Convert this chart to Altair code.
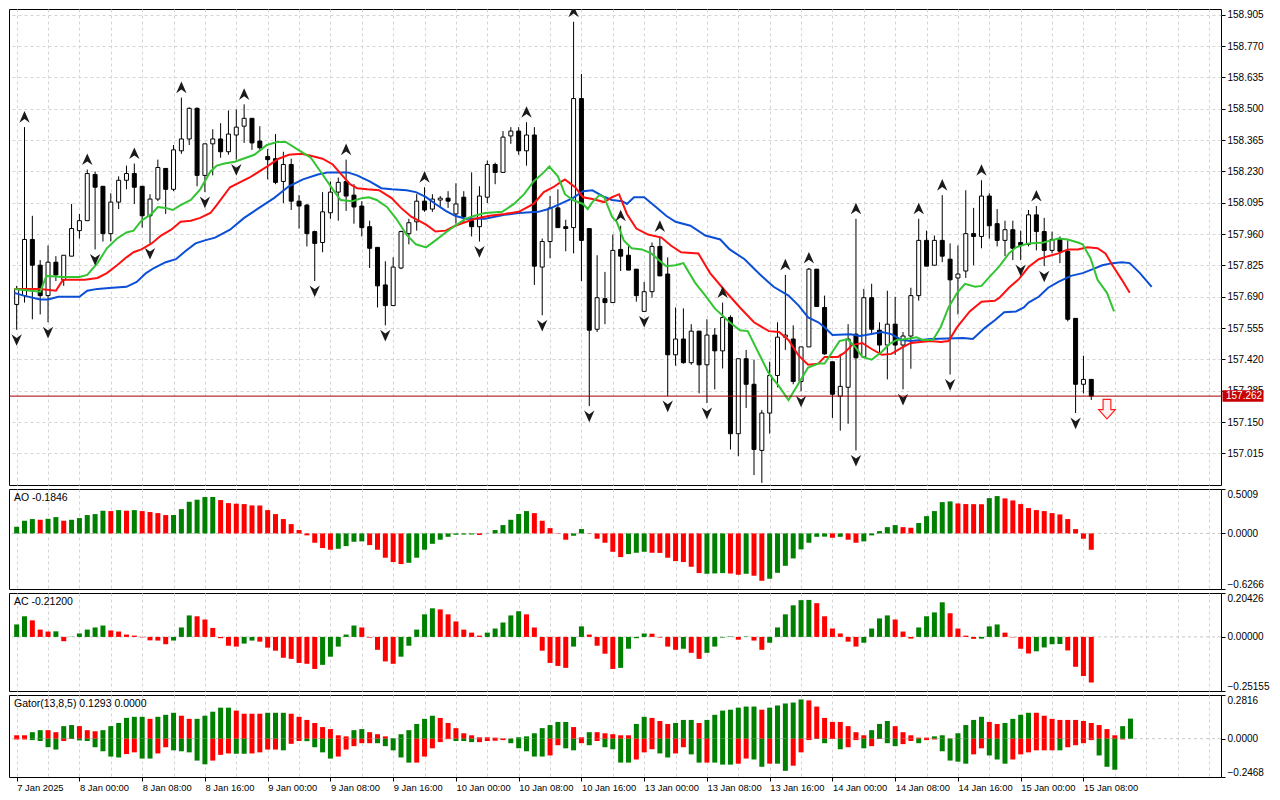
import altair as alt
import pandas as pd

# ---------------- data ----------------
opens = [157.657, 157.695, 157.937, 157.826, 157.695, 157.839, 157.763, 157.865, 157.975, 158.018,
         158.217, 158.166, 157.962, 158.098, 158.192, 158.221, 158.166, 158.039, 158.111, 158.243,
         158.153, 158.319, 158.370, 158.502, 158.213, 158.349, 158.370, 158.315, 158.387, 158.425,
         158.459, 158.361, 158.294, 158.285, 158.187, 158.260, 158.102, 158.085, 157.971, 157.924,
         158.052, 158.141, 158.187, 158.128, 158.081, 157.992, 157.903, 157.741, 157.652, 157.814,
         157.962, 158.013, 158.102, 158.068, 158.107, 158.115, 158.047, 158.119, 158.018, 157.992,
         158.119, 158.260, 158.226, 158.383, 158.404, 158.319, 158.387, 157.818, 157.928, 158.073,
         157.992, 157.988, 158.544, 157.984, 157.550, 157.682, 157.665, 157.894, 157.869, 157.809,
         157.627, 157.712, 157.907, 157.788, 157.440, 157.508, 157.406, 157.542, 157.397, 157.525,
         157.457, 157.601, 157.100, 157.423, 157.313, 157.028, 157.189, 157.351, 157.516, 157.508,
         157.325, 157.474, 157.809, 157.644, 157.410, 157.262, 157.300, 157.529, 157.431, 157.686,
         157.546, 157.482, 157.572, 157.482, 157.521, 157.695, 157.933, 157.826, 157.933, 157.852,
         157.771, 157.801, 157.962, 157.950, 158.124, 158.005, 157.933, 157.979, 157.924, 157.916,
         158.043, 157.971, 157.890, 157.937, 157.886, 157.597, 157.313, 157.334]
highs = [157.737, 158.421, 158.039, 157.848, 157.911, 157.865, 157.869, 158.090, 158.047, 158.238,
         158.230, 158.166, 158.136, 158.209, 158.255, 158.264, 158.166, 158.132, 158.281, 158.243,
         158.344, 158.548, 158.506, 158.506, 158.349, 158.412, 158.438, 158.493, 158.497, 158.519,
         158.459, 158.425, 158.327, 158.391, 158.315, 158.285, 158.128, 158.090, 157.975, 158.141,
         158.187, 158.204, 158.281, 158.175, 158.102, 158.018, 157.903, 157.843, 157.860, 157.975,
         158.026, 158.132, 158.162, 158.132, 158.124, 158.145, 158.179, 158.145, 158.226, 158.166,
         158.277, 158.268, 158.404, 158.421, 158.421, 158.442, 158.421, 157.941, 158.124, 158.153,
         158.022, 158.875, 158.650, 157.984, 157.869, 157.797, 157.958, 157.996, 157.916, 157.809,
         157.754, 157.924, 157.950, 157.860, 157.644, 157.640, 157.572, 157.542, 157.593, 157.555,
         157.665, 157.610, 157.423, 157.461, 157.419, 157.202, 157.410, 157.580, 157.784, 157.567,
         157.474, 157.814, 157.809, 157.695, 157.410, 157.444, 157.572, 158.026, 157.724, 157.746,
         157.580, 157.716, 157.690, 157.538, 157.729, 158.026, 157.975, 157.954, 158.128, 157.920,
         157.911, 158.149, 158.073, 158.192, 158.136, 158.068, 158.018, 158.018, 157.975, 158.064,
         158.081, 158.030, 157.971, 157.950, 157.933, 157.597, 157.436, 157.334]
lows = [157.548, 157.665, 157.593, 157.614, 157.580, 157.758, 157.737, 157.865, 157.941, 158.018,
        157.894, 157.928, 157.928, 158.068, 158.153, 158.090, 157.988, 157.920, 158.102, 158.047,
        158.145, 158.306, 158.344, 158.166, 158.141, 158.213, 158.289, 158.302, 158.281, 158.353,
        158.323, 158.323, 158.196, 158.175, 158.094, 158.064, 157.984, 157.907, 157.758, 157.882,
        158.026, 158.018, 158.060, 158.005, 157.950, 157.814, 157.644, 157.567, 157.652, 157.809,
        157.916, 157.975, 158.056, 158.056, 158.077, 158.073, 158.005, 158.013, 157.950, 157.928,
        158.094, 158.175, 158.226, 158.349, 158.302, 158.255, 157.741, 157.610, 157.856, 157.988,
        157.886, 157.877, 157.758, 157.219, 157.538, 157.572, 157.665, 157.801, 157.805, 157.669,
        157.627, 157.686, 157.780, 157.262, 157.393, 157.402, 157.397, 157.274, 157.232, 157.291,
        157.381, 157.032, 157.003, 157.211, 156.922, 156.888, 157.100, 157.300, 157.461, 157.313,
        157.283, 157.474, 157.648, 157.440, 157.168, 157.113, 157.143, 157.028, 157.431, 157.525,
        157.440, 157.334, 157.440, 157.291, 157.380, 157.673, 157.822, 157.826, 157.839, 157.355,
        157.614, 157.771, 157.826, 157.899, 157.941, 157.907, 157.865, 157.848, 157.848, 157.907,
        157.890, 157.822, 157.877, 157.835, 157.584, 157.189, 157.274, 157.245]
closes = [157.724, 157.937, 157.826, 157.695, 157.839, 157.784, 157.869, 157.984, 158.018, 158.221,
          158.162, 157.962, 158.098, 158.192, 158.221, 158.162, 158.039, 158.111, 158.247, 158.153,
          158.323, 158.370, 158.502, 158.213, 158.349, 158.370, 158.315, 158.391, 158.421, 158.459,
          158.353, 158.332, 158.281, 158.183, 158.260, 158.102, 158.081, 157.962, 157.920, 158.056,
          158.141, 158.183, 158.124, 158.077, 157.988, 157.899, 157.737, 157.652, 157.818, 157.971,
          158.009, 158.102, 158.064, 158.111, 158.115, 158.102, 158.090, 158.035, 157.992, 158.124,
          158.260, 158.226, 158.378, 158.404, 158.319, 158.387, 157.822, 157.928, 158.073, 157.988,
          157.984, 158.544, 157.933, 157.546, 157.686, 157.665, 157.890, 157.865, 157.805, 157.695,
          157.712, 157.907, 157.780, 157.440, 157.508, 157.406, 157.542, 157.397, 157.525, 157.457,
          157.601, 157.100, 157.423, 157.313, 157.032, 157.189, 157.351, 157.516, 157.525, 157.325,
          157.474, 157.809, 157.648, 157.444, 157.270, 157.304, 157.508, 157.427, 157.686, 157.550,
          157.482, 157.572, 157.482, 157.521, 157.695, 157.933, 157.822, 157.933, 157.865, 157.763,
          157.788, 157.962, 157.950, 158.124, 157.996, 157.933, 157.979, 157.899, 157.911, 158.043,
          157.971, 157.890, 157.937, 157.886, 157.593, 157.313, 157.334, 157.262]

time_labels = ["7 Jan 2025", "8 Jan 00:00", "8 Jan 08:00", "8 Jan 16:00", "9 Jan 00:00",
               "9 Jan 08:00", "9 Jan 16:00", "10 Jan 00:00", "10 Jan 08:00", "10 Jan 16:00",
               "13 Jan 00:00", "13 Jan 08:00", "13 Jan 16:00", "14 Jan 00:00", "14 Jan 08:00",
               "14 Jan 16:00", "15 Jan 00:00", "15 Jan 08:00"]
price_ticks = [157.015, 157.150, 157.285, 157.420, 157.555, 157.690, 157.825, 157.960,
               158.095, 158.230, 158.365, 158.500, 158.635, 158.770, 158.905]

up_fractal_bars = [1, 9, 15, 21, 29, 42, 52, 65, 71, 77, 82, 90, 98, 101, 107, 115, 118, 123, 130]
down_fractal_bars = [0, 4, 10, 17, 24, 28, 38, 47, 59, 67, 73, 80, 83, 88, 95, 100, 107, 113,
                     119, 128, 131, 135]
signal_bar = 139
signal_price = 157.206

jaw = [(-0.3, 157.707), (0.9, 157.695), (3.0, 157.678), (4.0, 157.678), (5.3, 157.690), (8.0, 157.690),
       (9.0, 157.716), (10.3, 157.724), (12.2, 157.729), (14.0, 157.733), (15.3, 157.754), (16.5, 157.792),
       (17.5, 157.814), (19.0, 157.839), (20.3, 157.852), (21.5, 157.886), (22.8, 157.920), (24.0, 157.933),
       (25.3, 157.945), (27.2, 157.979), (29.0, 158.030), (30.9, 158.073), (32.8, 158.115), (34.7, 158.166),
       (36.5, 158.196), (38.4, 158.217), (39.7, 158.226), (42.2, 158.226), (43.4, 158.213), (45.0, 158.187),
       (46.5, 158.158), (47.8, 158.153), (49.7, 158.149), (50.9, 158.141), (52.2, 158.119), (53.4, 158.090),
       (54.7, 158.060), (55.9, 158.039), (57.2, 158.026), (59.7, 158.026), (62.2, 158.043), (64.0, 158.051),
       (66.5, 158.056), (67.8, 158.068), (69.3, 158.090), (70.9, 158.115), (72.2, 158.145), (73.4, 158.149),
       (74.7, 158.124), (75.9, 158.107), (77.2, 158.102), (77.8, 158.090), (78.7, 158.119), (80.0, 158.119),
       (81.5, 158.077), (82.8, 158.039), (84.0, 158.013), (85.9, 157.996), (87.8, 157.954), (89.7, 157.937),
       (90.9, 157.894), (92.8, 157.852), (94.7, 157.788), (96.5, 157.733), (98.4, 157.695), (99.7, 157.652),
       (100.9, 157.601), (102.2, 157.580), (103.0, 157.559), (104.0, 157.525), (106.3, 157.529), (107.5, 157.521),
       (108.8, 157.529), (110.3, 157.538), (111.5, 157.529), (112.8, 157.504), (114.0, 157.499), (116.5, 157.508),
       (120.7, 157.512), (121.9, 157.508), (123.4, 157.555), (124.7, 157.589), (125.9, 157.623), (127.4, 157.627),
       (128.4, 157.644), (129.0, 157.665), (130.3, 157.690), (131.5, 157.729), (132.8, 157.754), (134.4, 157.780),
       (135.9, 157.792), (137.2, 157.809), (138.4, 157.826), (139.7, 157.835), (140.9, 157.839), (141.9, 157.835),
       (143.2, 157.792), (144.7, 157.733)]
teeth = [(-0.3, 157.724), (3.0, 157.724), (5.0, 157.716), (5.9, 157.763), (8.7, 157.763), (10.3, 157.771),
         (11.5, 157.792), (12.8, 157.826), (14.0, 157.860), (14.9, 157.882), (15.9, 157.894), (17.2, 157.920),
         (18.4, 157.954), (19.7, 157.979), (20.9, 158.013), (22.2, 158.018), (23.4, 158.030), (24.7, 158.051),
         (25.5, 158.085), (27.2, 158.162), (29.7, 158.204), (31.9, 158.251), (33.4, 158.285), (34.7, 158.302),
         (36.3, 158.306), (37.5, 158.298), (39.0, 158.285), (40.3, 158.260), (41.5, 158.213), (42.5, 158.175),
         (43.4, 158.158), (44.7, 158.153), (46.2, 158.149), (47.8, 158.115), (49.0, 158.073), (50.3, 158.035),
         (52.2, 158.001), (53.4, 157.971), (54.7, 157.975), (55.9, 157.996), (58.4, 158.026), (60.3, 158.039),
         (62.2, 158.047), (64.0, 158.056), (65.9, 158.090), (67.2, 158.141), (68.4, 158.162), (69.3, 158.183),
         (69.9, 158.196), (71.2, 158.162), (72.2, 158.119), (73.4, 158.111), (74.9, 158.098), (75.9, 158.119),
         (76.8, 158.132), (77.8, 158.047), (79.0, 157.984), (80.5, 157.958), (82.2, 157.945), (83.4, 157.911),
         (84.7, 157.882), (86.9, 157.877), (88.4, 157.792), (90.3, 157.716), (92.2, 157.644), (94.0, 157.580),
         (95.9, 157.542), (97.2, 157.538), (98.4, 157.504), (99.7, 157.436), (100.9, 157.397), (102.2, 157.402),
         (103.0, 157.431), (104.7, 157.431), (105.5, 157.448), (106.5, 157.482), (107.8, 157.491), (109.0, 157.465),
         (110.3, 157.440), (111.5, 157.444), (112.8, 157.470), (114.0, 157.491), (116.5, 157.499), (117.8, 157.495),
         (118.8, 157.499), (119.9, 157.559), (121.5, 157.627), (123.0, 157.669), (124.7, 157.673), (125.3, 157.686),
         (126.5, 157.729), (127.8, 157.767), (129.0, 157.818), (130.3, 157.852), (131.5, 157.865), (132.8, 157.877),
         (134.0, 157.894), (135.3, 157.894), (136.5, 157.903), (137.8, 157.899), (138.8, 157.877), (139.7, 157.826),
         (140.9, 157.763), (141.9, 157.707)]
lips = [(-0.3, 157.724), (3.0, 157.712), (3.8, 157.780), (5.9, 157.775), (8.0, 157.775), (9.0, 157.784),
        (10.3, 157.835), (11.5, 157.899), (12.8, 157.941), (14.0, 157.967), (14.9, 157.975), (15.9, 158.018),
        (17.2, 158.047), (18.0, 158.077), (19.0, 158.073), (19.9, 158.064), (20.9, 158.085), (22.2, 158.107),
        (23.4, 158.153), (24.7, 158.230), (25.5, 158.255), (26.5, 158.264), (27.8, 158.272), (30.3, 158.302),
        (31.9, 158.344), (33.2, 158.357), (34.3, 158.357), (35.9, 158.323), (37.5, 158.289), (39.0, 158.217),
        (40.3, 158.153), (41.3, 158.107), (42.8, 158.102), (44.0, 158.115), (44.9, 158.119), (45.9, 158.107),
        (47.2, 158.077), (48.4, 158.026), (49.7, 157.958), (50.9, 157.916), (52.2, 157.903), (53.4, 157.933),
        (54.7, 157.967), (55.9, 157.996), (57.2, 158.026), (58.4, 158.039), (59.7, 158.051), (61.9, 158.056),
        (63.4, 158.090), (64.7, 158.132), (65.9, 158.187), (67.2, 158.226), (67.9, 158.251), (69.0, 158.209),
        (69.9, 158.132), (70.9, 158.107), (72.2, 158.090), (72.8, 158.068), (73.4, 158.098), (74.3, 158.128),
        (74.9, 158.119), (75.9, 158.035), (76.5, 158.013), (77.4, 157.933), (78.4, 157.899), (79.7, 157.894),
        (80.9, 157.877), (82.8, 157.822), (84.0, 157.826), (85.0, 157.835), (86.5, 157.750), (87.8, 157.695),
        (89.0, 157.640), (90.9, 157.580), (92.2, 157.546), (93.2, 157.542), (94.7, 157.440), (95.9, 157.359),
        (97.2, 157.304), (98.4, 157.245), (99.7, 157.317), (100.9, 157.385), (102.2, 157.402), (103.0, 157.402),
        (104.0, 157.453), (104.9, 157.499), (105.9, 157.508), (106.9, 157.474), (107.8, 157.431), (109.0, 157.419),
        (110.3, 157.453), (111.3, 157.487), (112.2, 157.504), (113.4, 157.508), (114.7, 157.516), (115.5, 157.504),
        (116.8, 157.504), (117.8, 157.559), (118.8, 157.644), (119.9, 157.707), (120.9, 157.746), (122.2, 157.733),
        (123.0, 157.737), (124.0, 157.775), (125.3, 157.822), (126.5, 157.877), (127.4, 157.903), (129.0, 157.920),
        (130.9, 157.924), (131.9, 157.933), (132.8, 157.941), (134.0, 157.937), (135.3, 157.924), (135.9, 157.916),
        (136.9, 157.856), (137.8, 157.763), (139.0, 157.707), (139.9, 157.627)]

ao_values = [0.075, 0.143, 0.162, 0.154, 0.165, 0.184, 0.143, 0.154, 0.173, 0.207,
             0.218, 0.256, 0.252, 0.263, 0.256, 0.263, 0.252, 0.241, 0.229, 0.207,
             0.208, 0.274, 0.357, 0.380, 0.410, 0.411, 0.376, 0.342, 0.335, 0.331,
             0.316, 0.315, 0.263, 0.218, 0.162, 0.105, 0.038, -0.022, -0.105, -0.165,
             -0.184, -0.173, -0.143, -0.094, -0.090, -0.132, -0.184, -0.274, -0.323, -0.346,
             -0.331, -0.274, -0.184, -0.117, -0.071, -0.038, -0.015, -0.013, -0.012, -0.018,
             -0.002, 0.038, 0.094, 0.154, 0.218, 0.252, 0.229, 0.143, 0.060, 0.004,
             -0.071, -0.026, 0.049, -0.004, -0.060, -0.105, -0.207, -0.267, -0.233, -0.218,
             -0.207, -0.218, -0.220, -0.274, -0.312, -0.323, -0.376, -0.447, -0.455, -0.451,
             -0.447, -0.452, -0.466, -0.455, -0.477, -0.534, -0.511, -0.444, -0.365, -0.282,
             -0.180, -0.105, -0.038, -0.036, -0.049, -0.038, -0.071, -0.105, -0.090, -0.022,
             0.026, 0.071, 0.094, 0.071, 0.064, 0.117, 0.195, 0.252, 0.353, 0.361,
             0.338, 0.331, 0.330, 0.329, 0.398, 0.421, 0.395, 0.372, 0.331, 0.286,
             0.263, 0.252, 0.229, 0.214, 0.162, 0.049, -0.060, -0.1846]
ao_colors = list("gggrggrggg" "ggrgrgrrrr" "ggggggrrrr" "rrrrrrrrrr" "rggggrrrrr"
                 "gggggggggr" "ggggggrrrr" "rggrrrrrgg" "grrrrrrrgg" "grrgrrgggg"
                 "ggggrgrrgg" "gggrrggggg" "rrrrggrrrr" "rrrrrrrr")

ac_values = [0.058, 0.096, 0.077, 0.034, 0.025, 0.026, -0.020, 0.001, 0.016, 0.034,
             0.044, 0.053, 0.030, 0.025, 0.011, 0.006, -0.002, -0.016, -0.017, -0.034,
             -0.017, 0.044, 0.100, 0.096, 0.081, 0.042, -0.006, -0.041, -0.045, -0.031,
             -0.017, -0.022, -0.050, -0.064, -0.097, -0.102, -0.121, -0.125, -0.149, -0.130,
             -0.092, -0.045, 0.011, 0.053, 0.044, -0.003, -0.060, -0.114, -0.125, -0.092,
             -0.041, 0.034, 0.105, 0.133, 0.128, 0.105, 0.072, 0.034, 0.020, 0.006,
             0.020, 0.039, 0.067, 0.100, 0.119, 0.105, 0.044, -0.064, -0.121, -0.135,
             -0.144, -0.045, 0.049, 0.011, -0.041, -0.078, -0.149, -0.144, -0.055, -0.006,
             0.016, 0.015, -0.003, -0.045, -0.060, -0.055, -0.074, -0.102, -0.074, -0.045,
             -0.003, 0.002, -0.013, 0.002, -0.017, -0.060, -0.027, 0.044, 0.105, 0.147,
             0.171, 0.172, 0.157, 0.096, 0.039, 0.016, -0.022, -0.045, -0.027, 0.039,
             0.086, 0.100, 0.081, 0.025, -0.008, 0.044, 0.096, 0.114, 0.161, 0.110,
             0.039, 0.006, -0.009, -0.008, 0.049, 0.058, 0.020, -0.002, -0.055, -0.077,
             -0.067, -0.049, -0.034, -0.033, -0.063, -0.139, -0.182, -0.212]
ac_colors = list("ggrrrgrggg" "ggrrrrrrrr" "gggrrrrrrg" "grrrrrrrrg" "ggggrrrrrg"
                 "ggggrrrrrr" "gggggrrrrr" "rggrrrrggg" "grrrrgrrgg" "ggrgrrgggg"
                 "ggrrrrrrgg" "ggrrrggggr" "rrrgggrrrr" "ggggrrrr")

gator_up = [0.022, 0.022, 0.042, 0.055, 0.055, 0.042, 0.081, 0.088, 0.081, 0.055,
            0.048, 0.055, 0.081, 0.101, 0.134, 0.141, 0.141, 0.128, 0.141, 0.154,
            0.167, 0.148, 0.128, 0.128, 0.148, 0.174, 0.200, 0.200, 0.181, 0.161,
            0.161, 0.161, 0.167, 0.167, 0.167, 0.161, 0.141, 0.121, 0.101, 0.075,
            0.062, 0.022, 0.015, 0.055, 0.062, 0.042, 0.029, 0.015, 0.003, 0.029,
            0.055, 0.095, 0.128, 0.148, 0.134, 0.101, 0.068, 0.035, 0.022, 0.009,
            0.009, 0.007, 0.002, 0.001, 0.009, 0.015, 0.035, 0.068, 0.088, 0.108,
            0.108, 0.075, 0.009, 0.042, 0.042, 0.035, 0.029, 0.022, 0.022, 0.095,
            0.141, 0.134, 0.114, 0.095, 0.101, 0.121, 0.121, 0.101, 0.121, 0.154,
            0.181, 0.187, 0.200, 0.207, 0.207, 0.187, 0.200, 0.214, 0.227, 0.233,
            0.253, 0.247, 0.207, 0.134, 0.108, 0.108, 0.081, 0.042, 0.022, 0.055,
            0.095, 0.114, 0.081, 0.042, 0.022, 0.007, 0.007, 0.015, 0.022, 0.002,
            0.035, 0.088, 0.121, 0.141, 0.108, 0.095, 0.101, 0.128, 0.154, 0.167,
            0.167, 0.148, 0.128, 0.121, 0.121, 0.121, 0.114, 0.101, 0.088, 0.062,
            0.022, 0.081, 0.1293]
gator_up_colors = list("rrggrrggrr" "rggggggrgg" "grrgggggrr" "rrgggrrrrr" "rrrggrrrgg"
                       "ggggrrrrrr" "rrrrgggggg" "grrgrrrrrg" "grrrgggrgg" "gggggrgggg"
                       "grrrrrrrrg" "ggrrrrrggr" "ggggrrgggg" "rrrrrrrrrr" "rgg")
gator_down = [-0.005, -0.005, -0.009, -0.015, -0.055, -0.070, -0.015, -0.002, -0.011, -0.015,
              -0.055, -0.081, -0.115, -0.121, -0.099, -0.088, -0.128, -0.128, -0.095, -0.055,
              -0.075, -0.081, -0.088, -0.141, -0.165, -0.141, -0.104, -0.095, -0.097, -0.097,
              -0.095, -0.088, -0.070, -0.070, -0.075, -0.033, -0.015, -0.016, -0.055, -0.088,
              -0.128, -0.115, -0.070, -0.048, -0.029, -0.029, -0.029, -0.048, -0.075, -0.121,
              -0.154, -0.154, -0.115, -0.062, -0.022, -0.003, -0.015, -0.015, -0.022, -0.022,
              -0.015, -0.013, -0.009, -0.029, -0.062, -0.081, -0.115, -0.115, -0.108, -0.042,
              -0.062, -0.075, -0.029, -0.042, -0.015, -0.055, -0.068, -0.154, -0.154, -0.134,
              -0.088, -0.068, -0.095, -0.121, -0.095, -0.055, -0.101, -0.154, -0.154, -0.154,
              -0.167, -0.167, -0.161, -0.128, -0.134, -0.181, -0.161, -0.161, -0.207, -0.174,
              -0.088, -0.009, -0.002, -0.029, -0.002, -0.068, -0.055, -0.009, -0.062, -0.048,
              -0.002, -0.029, -0.048, -0.035, -0.015, -0.029, -0.009, -0.005, -0.081, -0.141,
              -0.148, -0.161, -0.101, -0.062, -0.108, -0.134, -0.161, -0.134, -0.101, -0.088,
              -0.075, -0.075, -0.075, -0.075, -0.055, -0.042, -0.029, -0.009, -0.108, -0.181,
              -0.200, -0.005]
gator_down_colors = list("rrggggrrgg" "ggggrrggrr" "gggggrrrgg" "rrrrgrrggg" "grrrrrgggg"
                         "grrrrrgggr" "rrrgggggrr" "ggrgrggggr" "rrggrrggrg" "ggrrggrggr"
                         "rrggrgrrgr" "rggrrgrrgg" "ggrrgggrrr" "rrrgrrrrgg" "gr")

ao_label = "AO -0.1846"
ac_label = "AC -0.21200"
gator_label = "Gator(13,8,5) 0.1293 0.0000"
ao_ticks = [0.5009, 0.0, -0.6266]
ac_ticks = [0.20426, 0.0, -0.25155]
gator_ticks = [0.2816, 0.0, -0.2468]

# ---------------- styling ----------------
FONT = "Liberation Sans"
FS_Y = 10          # right-hand price / indicator scales
FS_X = 9.4         # time labels
FS_T = 10.5        # panel captions
W = 1212
H_MAIN, H_AO, H_AC, H_GT = 476, 100, 98, 82
XDOM = [-0.34, 152.9]
PDOM = [156.879, 158.930]
GRID = "#d4d4d4"
GREEN, RED = "#008000", "#ff0000"
JAW, TEETH, LIPS = "#0b4fd6", "#ff1010", "#33c433"
UP_PATH = "M0,-1L0.85,0.9L0,0.3L-0.85,0.9Z"
DOWN_PATH = "M0,1L0.85,-0.9L0,-0.3L-0.85,-0.9Z"
BOX_PATH = "M-1,-0.28L1,-0.28L1,0.28L-1,0.28Z"
SIGNAL_PATH = "M-0.4,-1L0.4,-1L0.4,0.05L0.85,0.05L0,1L-0.85,0.05L-0.4,0.05Z"

grid_vals = list(range(0, 153, 4))
last_label_bar = 8 * (len(time_labels) - 1)

# ---------------- tables ----------------
n = len(closes)
candles = pd.DataFrame({"i": list(range(n)), "open": opens, "high": highs, "low": lows, "close": closes})
up_df = candles[candles["i"].isin(up_fractal_bars)]
down_df = candles[candles["i"].isin(down_fractal_bars)]
lines = pd.DataFrame(
    [{"pos": p, "val": v, "line": "jaw"} for p, v in jaw]
    + [{"pos": p, "val": v, "line": "teeth"} for p, v in teeth]
    + [{"pos": p, "val": v, "line": "lips"} for p, v in lips]
)
cur = pd.DataFrame({"p": [closes[-1]]})
sig = pd.DataFrame({"i": [signal_bar], "p": [signal_price]})

xscale = alt.Scale(domain=XDOM, nice=False, zero=False)
grid_axis = alt.Axis(values=grid_vals, grid=True, gridDash=[3, 3], gridColor=GRID, labels=False,
                     ticks=False, domain=False, title=None)


def xm(field="i"):
    return alt.X(f"{field}:Q", scale=xscale, axis=grid_axis)


pscale = alt.Scale(domain=PDOM, nice=False, zero=False)
paxis = alt.Axis(orient="right", values=price_ticks, format=".3f", grid=True, gridDash=[3, 3],
                 gridColor=GRID, tickSize=4, tickColor="black", domain=False, title=None,
                 labelPadding=2, labelFont=FONT, labelFontSize=FS_Y, labelColor="black")


def ym(field):
    return alt.Y(f"{field}:Q", scale=pscale, axis=paxis)


base = alt.Chart(candles)
wick = base.mark_rule(color="black", strokeWidth=1).encode(x=xm(), y=ym("low"), y2="high:Q")
body = base.mark_bar(size=4, stroke="black", strokeWidth=1, orient="vertical").encode(
    x=xm(), y=ym("open"), y2="close:Q",
    fill=alt.condition("datum.close > datum.open", alt.value("white"), alt.value("black")))
gator_lines = alt.Chart(lines).mark_line(strokeWidth=2).encode(
    x=xm("pos"), y=ym("val"),
    color=alt.Color("line:N", scale=alt.Scale(domain=["jaw", "teeth", "lips"], range=[JAW, TEETH, LIPS]),
                    legend=None))
fr_up = alt.Chart(up_df).mark_point(shape=UP_PATH, filled=True, size=150, color="#1a1a1a",
                                    opacity=1, yOffset=-10, clip=True).encode(x=xm(), y=ym("high"))
fr_dn = alt.Chart(down_df).mark_point(shape=DOWN_PATH, filled=True, size=150, color="#1a1a1a",
                                      opacity=1, yOffset=10, clip=True).encode(x=xm(), y=ym("low"))
price_line = alt.Chart(cur).mark_rule(color="#a00000", strokeWidth=1).encode(y=ym("p"))
price_box = alt.Chart(cur).mark_point(shape=BOX_PATH, filled=True, size=1681, color="#c80000",
                                      opacity=1).encode(x=alt.value(W + 22), y=ym("p"))
price_txt = alt.Chart(cur).mark_text(align="left", baseline="middle", color="white", font=FONT,
                                     fontSize=FS_Y).encode(x=alt.value(W + 5), y=ym("p"),
                                                           text=alt.Text("p:Q", format=".3f"))
signal = alt.Chart(sig).mark_point(shape=SIGNAL_PATH, filled=True, size=380, fill="#fff2f2",
                                   stroke="#ff2020", strokeWidth=1.2, opacity=1).encode(x=xm(), y=ym("p"))

main = alt.layer(wick, body, gator_lines, fr_up, fr_dn, price_line, price_box, price_txt, signal).properties(
    width=W, height=H_MAIN)


def hist_panel(df, ticks, fmt, height, label, bottom=False):
    ydom = [ticks[2], ticks[0]]
    yax = alt.Axis(orient="right", values=ticks, format=fmt, grid=False, tickSize=4, tickColor="black",
                   domain=False, title=None, labelPadding=2, labelFlush=True, labelFont=FONT,
                   labelFontSize=FS_Y, labelColor="black")
    yenc = alt.Y("v:Q", scale=alt.Scale(domain=ydom, nice=False, zero=False), axis=yax)
    if bottom:
        lbl_arr = "[" + ",".join(repr(s) for s in time_labels) + "]"
        test = f"datum.value % 8 == 0 && datum.value <= {last_label_bar}"
        xax = alt.Axis(values=grid_vals, grid=True, gridDash=[3, 3], gridColor=GRID,
                       labelExpr=f"{test} ? {lbl_arr}[floor(datum.value / 8)] : ''",
                       labelAlign="left", labelOverlap=False, labelFlush=False, labelPadding=2,
                       labelFont=FONT, labelFontSize=FS_X, labelColor="black",
                       tickSize=4, tickColor="black",
                       tickOpacity={"condition": {"test": test, "value": 1}, "value": 0},
                       domain=False, title=None)
        xenc = alt.X("i:Q", scale=xscale, axis=xax)
    else:
        xenc = xm()
    bars = alt.Chart(df).mark_bar(size=5, orient="vertical").encode(
        x=xenc, y=yenc, y2="zero:Q",
        color=alt.Color("c:N", scale=alt.Scale(domain=["g", "r"], range=[GREEN, RED]), legend=None))
    zero = alt.Chart(pd.DataFrame({"v": [0.0]})).mark_rule(color="#c8c8c8", strokeDash=[3, 3]).encode(y=yenc)
    txt = alt.Chart(pd.DataFrame({"t": [label]})).mark_text(
        align="left", baseline="middle", font=FONT, fontSize=FS_T, color="black").encode(
        x=alt.value(5), y=alt.value(9), text="t:N")
    return alt.layer(zero, bars, txt).properties(width=W, height=height)


ao_df = pd.DataFrame({"i": list(range(len(ao_values))), "v": ao_values, "c": ao_colors, "zero": 0.0})
ac_df = pd.DataFrame({"i": list(range(len(ac_values))), "v": ac_values, "c": ac_colors, "zero": 0.0})
gt_df = pd.concat([
    pd.DataFrame({"i": list(range(len(gator_up))), "v": gator_up, "c": gator_up_colors, "zero": 0.0}),
    pd.DataFrame({"i": list(range(len(gator_down))), "v": gator_down, "c": gator_down_colors, "zero": 0.0}),
])

ao = hist_panel(ao_df, ao_ticks, ".4f", H_AO, ao_label)
ac = hist_panel(ac_df, ac_ticks, ".5f", H_AC, ac_label)
gt = hist_panel(gt_df, gator_ticks, ".4f", H_GT, gator_label, bottom=True)

chart = alt.vconcat(main, ao, ac, gt, spacing=2).properties(
    padding={"left": 0, "top": 0, "right": 0, "bottom": 0}, background="white"
).configure_view(stroke="black", strokeWidth=1, fill="white").resolve_scale(
    color="independent", y="independent")

chart.save("out.html", embed_options={"renderer": "svg", "actions": False})
